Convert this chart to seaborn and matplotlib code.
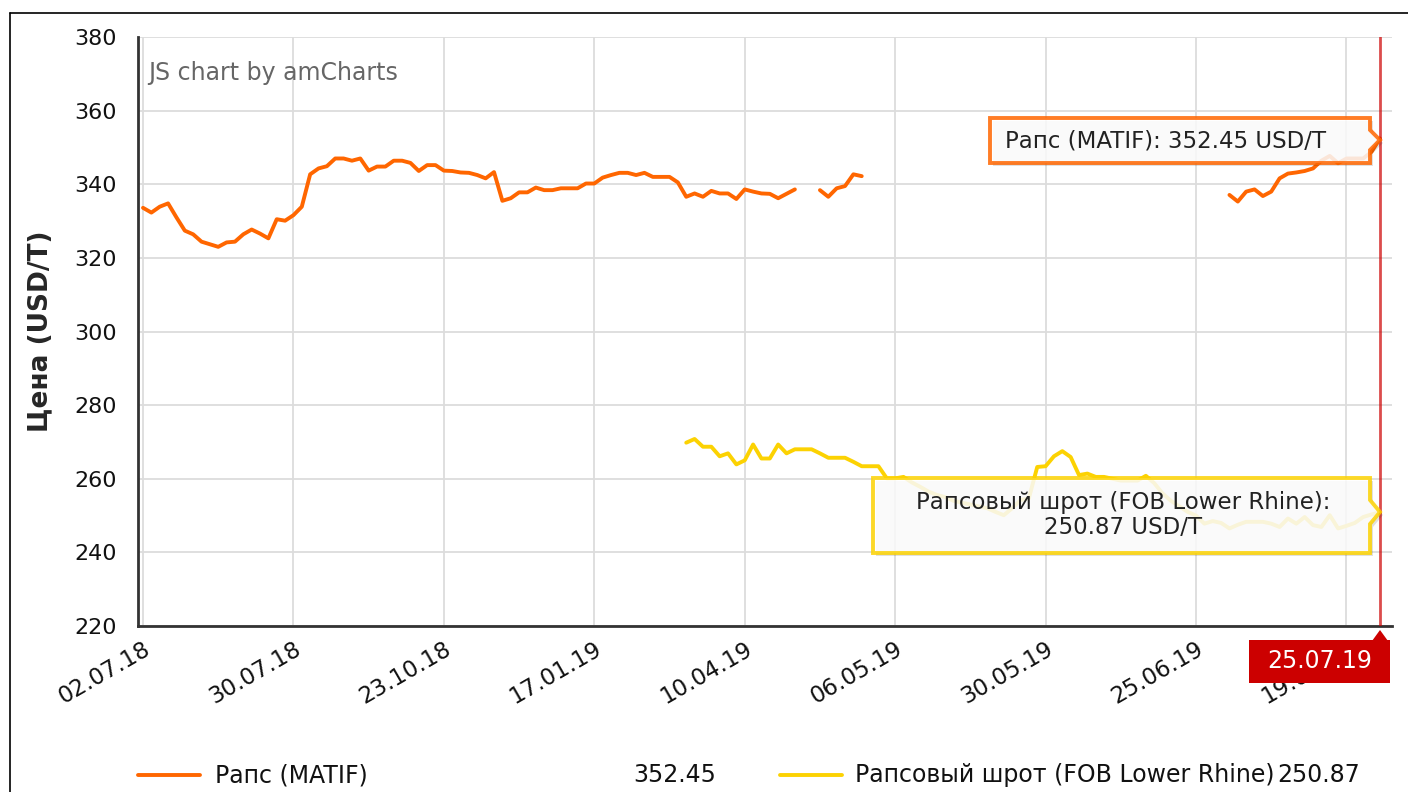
import matplotlib.pyplot as plt
import matplotlib.patches as mpatches
import numpy as np
import pandas as pd
import seaborn as sns

nan = np.nan

# Рапс (MATIF), one value per trading day (category axis)
rapeseed = [
    333.6, 332.3, 333.9, 334.8, 331.0, 327.4, 326.4, 324.4, 323.7, 323.0,
    324.2, 324.4, 326.4, 327.7, 326.6, 325.3, 330.5, 330.1, 331.6, 333.9,
    342.7, 344.3, 344.9, 347.0, 347.0, 346.4, 347.0, 343.7, 344.8, 344.8,
    346.4, 346.4, 345.8, 343.6, 345.2, 345.2, 343.7, 343.6, 343.2, 343.1,
    342.5, 341.6, 343.3, 335.5, 336.2, 337.8, 337.8, 339.1, 338.4, 338.4,
    338.9, 338.9, 338.9, 340.2, 340.2, 341.8, 342.5, 343.1, 343.1, 342.5,
    343.1, 342.0, 342.0, 342.0, 340.5, 336.6, 337.5, 336.6, 338.2, 337.5,
    337.5, 336.0, 338.6, 338.0, 337.5, 337.4, 336.2, 337.4, 338.6, nan,
    nan, 338.4, 336.6, 338.9, 339.5, 342.7, 342.2, nan, nan, nan,
] + [nan] * 40 + [
    337.1, 335.3, 338.0, 338.6, 336.8, 338.0, 341.6, 342.9, 343.2, 343.6,
    344.3, 346.4, 347.7, 345.7, 347.0, 347.0, 347.0, 348.8, 352.45,
]

# Рапсовый шрот (FOB Lower Rhine)
meal = [nan] * 65 + [
    269.8, 270.8, 268.7, 268.7, 266.1,
    266.9, 263.9, 265.0, 269.3, 265.5, 265.5, 269.3, 266.9, 268.0, 268.0,
    268.0, 266.9, 265.7, 265.7, 265.7, 264.6, 263.4, 263.4, 263.4, 260.1,
    260.1, 260.5, 259.0, 257.8, 256.5, 255.6, 255.0, 254.0, 253.5, 253.0,
    252.5, 252.0, 251.0, 250.1, 252.0, 254.2, 254.7, 263.2, 263.4, 266.1,
    267.5, 265.9, 261.0, 261.4, 260.5, 260.5, 260.0, 259.5, 259.5, 259.5,
    260.8, 258.8, 256.0, 254.0, 252.5, 251.0, 250.0, 247.8, 248.5, 248.0,
    246.5, 247.5, 248.3, 248.3, 248.3, 247.8, 246.9, 249.2, 247.8, 249.6,
    247.4, 246.9, 250.1, 246.5, 247.2, 248.0, 249.6, 250.3, 250.87,
]

tick_labels = ["02.07.18", "30.07.18", "23.10.18", "17.01.19", "10.04.19",
               "06.05.19", "30.05.19", "25.06.19", "19.07.19"]
tick_step = 18
cursor_label = "25.07.19"
names = ["Рапс (MATIF)", "Рапсовый шрот (FOB Lower Rhine)"]
colors = ["#FF6600", "#FCD202"]

W, H = 1408, 792


def px(x, y):
    return (x / W, 1 - y / H)


def segments(values):
    s = pd.Series(values, dtype=float)
    ok = s.notna()
    grp = (~ok).cumsum()
    for _, part in s[ok].groupby(grp[ok]):
        yield part


sns.set_style("white")
plt.rcParams["font.family"] = ["DejaVu Sans"]
fig = plt.figure(figsize=(W / 100, H / 100), dpi=100)
ax = fig.add_axes([138 / W, 1 - 626 / H, (1392 - 138) / W, (626 - 37) / H])

n = len(rapeseed)
for values, color in zip([rapeseed, meal], colors):
    for part in segments(values):
        sns.lineplot(x=part.index, y=part.values, ax=ax, color=color,
                     linewidth=2.8, zorder=3)

ax.set_xlim(-0.6, n - 1 + 1.45)
ax.set_ylim(220, 380)
ax.set_yticks(np.arange(220, 381, 20))
ax.set_xticks(np.arange(0, n, tick_step))
ax.set_xticklabels(tick_labels, rotation=30, ha="right", rotation_mode="anchor")
ax.tick_params(axis="y", labelsize=16, length=9, width=1.5, color="#333333",
               labelcolor="#111111", pad=6)
ax.tick_params(axis="x", labelsize=16.5, length=8, width=1.5, color="#333333",
               labelcolor="#111111", pad=0, direction="out")
ax.grid(True, color="#dcdcdc", linewidth=1.3)
for side in ["top", "right"]:
    ax.spines[side].set_visible(False)
for side in ["left", "bottom"]:
    ax.spines[side].set_color("#333333")
    ax.spines[side].set_linewidth(2)
ax.set_xlabel("")
ax.set_ylabel("Цена (USD/T)", fontsize=19, fontweight="bold", labelpad=15)

ax.text(0.008, 0.96, "JS chart by amCharts", transform=ax.transAxes,
        fontsize=17, color="#666666", va="top", ha="left")

# cursor
last = n - 1
ax.axvline(last, color="#CC0000", alpha=0.7, linewidth=2, zorder=4)

# balloons
orange_box = [(990, 118), (1370, 118), (1370, 130), (1380, 140), (1370, 150),
              (1370, 163), (990, 163)]
yellow_box = [(873, 478), (1370, 478), (1370, 500), (1380, 512), (1370, 524),
              (1370, 553), (873, 553)]
for pts, color in [(orange_box, colors[0]), (yellow_box, colors[1])]:
    shadow = [px(x + 3, y + 3) for x, y in pts]
    fig.patches.append(mpatches.Polygon(shadow, closed=True, transform=fig.transFigure,
                                        facecolor="#000000", alpha=0.12, edgecolor="none",
                                        zorder=5))
    fig.patches.append(mpatches.Polygon([px(x, y) for x, y in pts], closed=True,
                                        transform=fig.transFigure, facecolor="white",
                                        alpha=0.85, edgecolor=color, linewidth=2.8,
                                        zorder=6))
fig.text(*px(1166, 141), f"{names[0]}: {rapeseed[-1]:.2f} USD/T", fontsize=16.5,
         color="#222222", ha="center", va="center", zorder=7)
fig.text(*px(1123, 515), f"{names[1]}:\n{meal[-1]:.2f} USD/T", fontsize=16.5,
         color="#222222", ha="center", va="center", linespacing=1.1, zorder=7)

# cursor date label
fig.patches.append(mpatches.Polygon([px(1249, 640), px(1390, 640), px(1390, 683),
                                     px(1249, 683)], closed=True, transform=fig.transFigure,
                                    facecolor="#CC0000", edgecolor="none", zorder=6))
fig.patches.append(mpatches.Polygon([px(1372, 641), px(1380, 630), px(1388, 641)],
                                    closed=True, transform=fig.transFigure,
                                    facecolor="#CC0000", edgecolor="none", zorder=6))
fig.text(*px(1320, 661), cursor_label, fontsize=17, color="white",
         ha="center", va="center", zorder=7)

# legend
legend_rows = [(138, 200, 215, 716, names[0], rapeseed[-1], colors[0]),
               (780, 842, 855, 1360, names[1], meal[-1], colors[1])]
for x0, x1, xt, xv, name, val, color in legend_rows:
    fig.add_artist(plt.Line2D([x0 / W, x1 / W], [1 - 775 / H] * 2, color=color,
                              linewidth=2.8, transform=fig.transFigure))
    fig.text(*px(xt, 775), name, fontsize=17, color="#111111", ha="left", va="center")
    fig.text(*px(xv, 775), f"{val:.2f}", fontsize=17, color="#111111",
             ha="right", va="center")

# outer frame (top and left edges visible)
fig.add_artist(plt.Line2D([10 / W, 1], [1 - 13 / H] * 2, color="#000000",
                          linewidth=1.2, transform=fig.transFigure))
fig.add_artist(plt.Line2D([10 / W, 10 / W], [1 - 13 / H, 0], color="#000000",
                          linewidth=1.2, transform=fig.transFigure))

fig.savefig("out.png", dpi=100)
